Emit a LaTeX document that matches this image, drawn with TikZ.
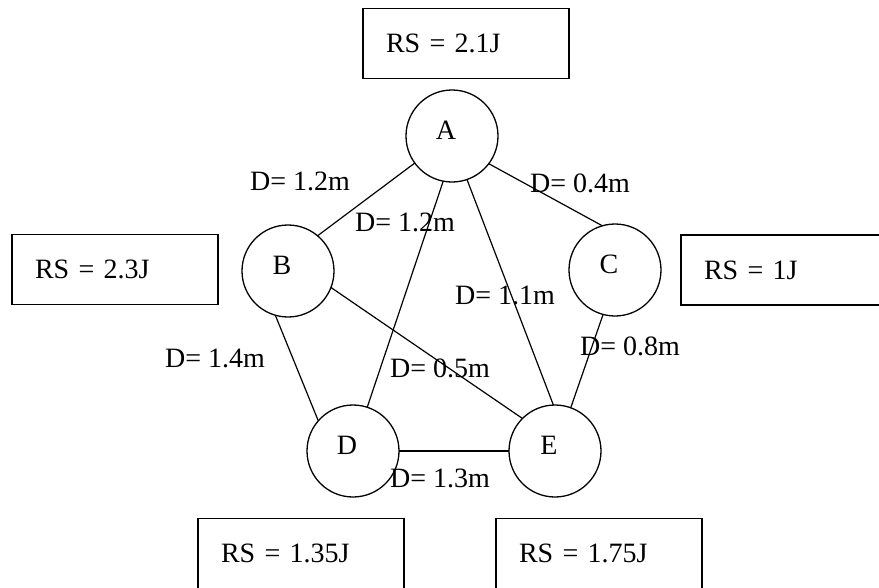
\documentclass[tikz,border=0pt]{standalone}
\usepackage{fontspec}
\setmainfont{Liberation Serif}
\begin{document}
\begin{tikzpicture}[x=1pt,y=-1pt,
  every node/.style={font=\fontsize{28}{32}\selectfont},
  vtx/.style={draw, circle, line width=1.3pt, minimum size=92pt, inner sep=0pt, outer sep=0pt},
  rsbox/.style={draw, rectangle, line width=1.6pt, minimum height=70pt, text width=160pt, inner xsep=23pt, align=left, outer sep=0pt},
  dlab/.style={anchor=base west, inner sep=0pt},
  edge/.style={line width=1.2pt}]
\useasboundingbox (0,0) rectangle (879,587);
% boxes
\node[rsbox] (r1) at (466,43.5) {RS = 2.1J};
\node[rsbox] (r2) at (115,269.5) {RS = 2.3J};
\node[rsbox] (r3) at (784,270) {RS = 1J};
\node[rsbox] (r4) at (301,553.5) {RS = 1.35J};
\node[rsbox] (r5) at (599,553.5) {RS = 1.75J};
% vertices
\newcommand{\vl}[1]{\hspace*{-12pt}\raisebox{12pt}{#1}}
\node[vtx] (A) at (452,136) {\vl{A}};
\node[vtx] (B) at (288,271) {\vl{B}};
\node[vtx] (C) at (615,270) {\vl{C}};
\node[vtx] (D) at (353,451) {\vl{D}};
\node[vtx] (E) at (555,451) {\vl{E}};
% edges
\draw[edge] (A.-144) -- (B.50);
\draw[edge] (A.-37) -- (C.106);
\draw[edge] (A.-101) -- (D.72);
\draw[edge] (A.-71) -- (E.92);
\draw[edge] (B.-106) -- (D.139);
\draw[edge] (B.-21) -- (E.135);
\draw[edge] (C.-105) -- (E.70);
\draw[edge] (D.0) -- (E.180);
% edge labels
\node[dlab] (l1) at (250,190) {D= 1.2m};
\node[dlab] (l2) at (355,231) {D= 1.2m};
\node[dlab] (l3) at (530,192) {D= 0.4m};
\node[dlab] (l4) at (455,304) {D= 1.1m};
\node[dlab] (l5) at (580,355) {D= 0.8m};
\node[dlab] (l6) at (165,367) {D= 1.4m};
\node[dlab] (l7) at (390,377) {D= 0.5m};
\node[dlab] (l8) at (390,487) {D= 1.3m};
\end{tikzpicture}
\end{document}
